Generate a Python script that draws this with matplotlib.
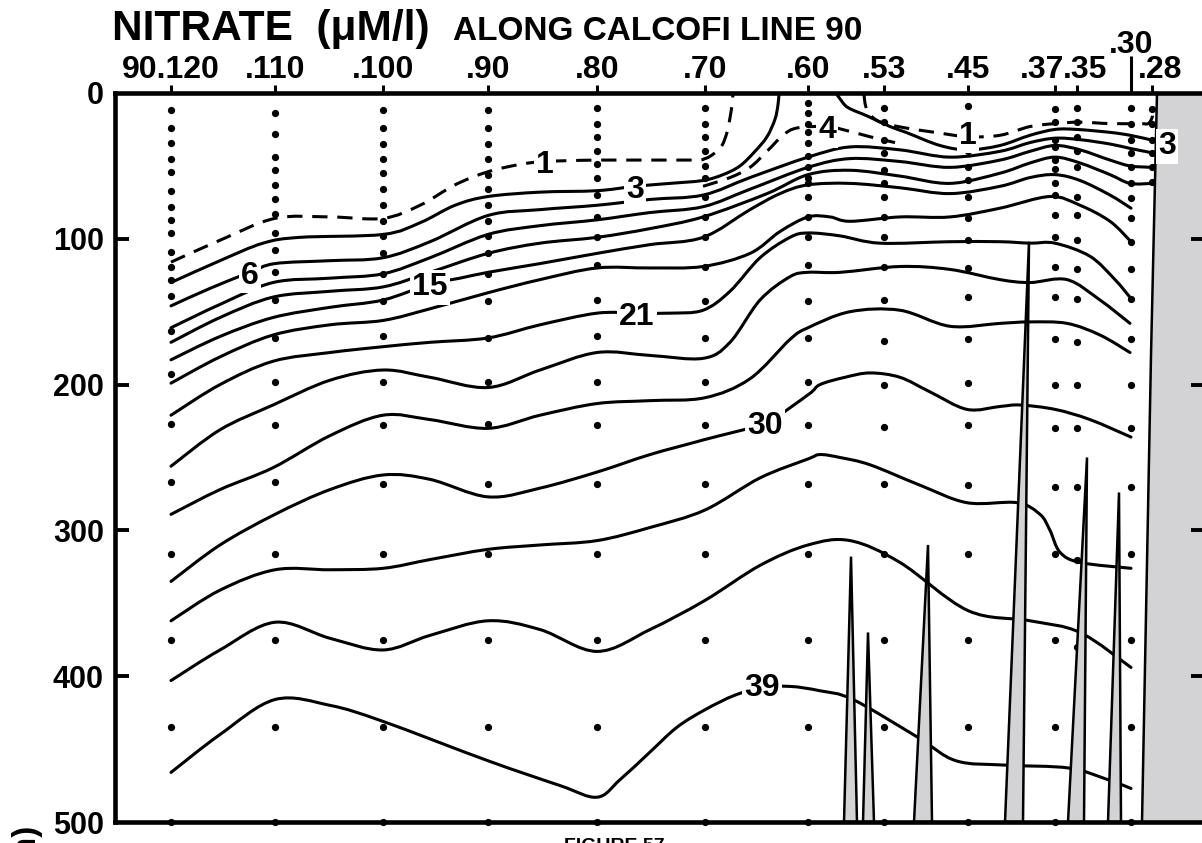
import matplotlib
matplotlib.use("Agg")
import matplotlib.pyplot as plt
from matplotlib.path import Path
from matplotlib.patches import PathPatch

plt.rcParams['font.family'] = ['Liberation Sans', 'DejaVu Sans']
plt.rcParams['font.weight'] = 'bold'

# stations along the line (section distance units) and their names
STATION_X = [171, 275, 383, 488, 597, 705, 808, 884, 968, 1055, 1077, 1131, 1152]
STATION_NAMES = ['90.120', '.110', '.100', '.90', '.80', '.70', '.60', '.53',
                 '.45', '.37', '.35', '.30', '.28']

# bottle depths (m) sampled at each station
S120 = [12, 24, 34, 45, 54, 67, 78, 87, 96, 109, 119, 128, 139, 163, 193, 227, 267, 316, 375, 435, 500]
S110 = [14, 28, 44, 53, 63, 73, 83, 96, 108, 123, 142, 168, 198, 228, 267, 316, 375, 435, 500]
S100 = [12, 24, 35, 45, 55, 66, 77, 88, 98, 110, 124, 143, 167, 198, 228, 268, 316, 375, 435, 500]
S90 = [12, 24, 35, 45, 56, 66, 77, 88, 98, 110, 124, 143, 168, 198, 227, 268, 316, 375, 435, 500]
S80 = [10, 21, 30, 40, 49, 58, 70, 85, 99, 118, 142, 167, 198, 228, 268, 316, 375, 435, 500]
S70 = [10, 21, 30, 40, 50, 58, 71, 85, 99, 119, 143, 168, 198, 228, 268, 316, 375, 435, 500]
S60 = [7, 14, 21, 27, 34, 43, 51, 58, 62, 71, 85, 99, 118, 143, 168, 198, 228, 268, 316, 375, 435, 500]
S53 = [10, 20, 32, 41, 53, 62, 71, 85, 99, 119, 142, 170, 200, 229, 268, 316, 375, 435, 500]
S45 = [9, 20, 30, 40, 51, 60, 71, 86, 101, 120, 140, 169, 199, 228, 269, 316, 375, 435, 500]
S37 = [11, 20, 32, 37, 46, 52, 62, 70, 84, 99, 119, 140, 169, 200, 230, 270, 316, 375, 435, 500]
S35 = [10, 20, 30, 40, 51, 71, 84, 101, 121, 141, 171, 200, 230, 270, 320, 380, 440]
S30 = [10, 21, 32, 41, 51, 62, 72, 86, 102, 121, 141, 169, 200, 230, 270, 316, 375, 435, 500]
S28 = [11, 21, 32, 41, 51, 61]
SAMPLES = [S120, S110, S100, S90, S80, S70, S60, S53, S45, S37, S35, S30, S28]

# nitrate isolines (uM/l): x along section, depth in m
N1A_X = [171, 220, 275, 330, 383, 420, 455, 488, 520, 545, 600, 690, 705, 715, 722, 727, 730, 732, 733]
N1A_Z = [116, 101, 86, 85, 86, 77, 63, 54, 49, 47, 46, 46, 45, 41, 36, 27, 17, 8, 0]
N1B_X = [864, 865, 868, 875, 885, 906, 935, 968, 1000, 1030, 1055, 1080, 1110, 1140, 1148, 1152, 1153]
N1B_Z = [0, 7, 13, 18, 21, 24, 27, 30, 29, 23, 21, 20, 21, 21, 21, 17, 12]
N3A_X = [171, 220, 263, 300, 383, 420, 455, 488, 540, 597, 635, 670, 703, 723, 740, 755, 767, 775, 778, 779]
N3A_Z = [130, 115, 103, 99, 97, 89, 77, 71, 68, 67, 64, 62, 60, 56, 50, 40, 30, 18, 8, 0]
N3B_X = [836, 840, 848, 868, 890, 906, 940, 968, 1000, 1030, 1055, 1077, 1110, 1130, 1150]
N3B_Z = [0, 4, 10, 16, 23, 27, 36, 39, 36, 29, 25, 25, 27, 29, 32]
N4_X = [703, 730, 750, 767, 783, 797, 827, 848, 870, 895]
N4_Z = [64, 58, 51, 40, 29, 24, 23, 26, 30, 34]
N6_X = [171, 210, 250, 275, 330, 383, 430, 488, 540, 597, 650, 703, 750, 808, 850, 900, 950, 1000, 1030, 1055, 1080, 1110, 1130, 1152]
N6_Z = [146, 134, 123, 117, 115, 113, 102, 84, 80, 77, 73, 70, 58, 44, 37, 39, 44, 40, 34, 31, 32, 35, 38, 41]
N9_X = [171, 220, 273, 330, 383, 430, 488, 540, 597, 650, 703, 750, 808, 850, 900, 950, 1000, 1030, 1055, 1080, 1110, 1130, 1152]
N9_Z = [161, 145, 130, 127, 124, 113, 97, 91, 87, 82, 78, 66, 51, 45, 47, 51, 46, 40, 36, 39, 46, 50, 51]
N12_X = [171, 220, 273, 330, 383, 430, 488, 540, 597, 650, 703, 767, 808, 850, 900, 950, 1000, 1030, 1055, 1080, 1110, 1130, 1152]
N12_Z = [171, 154, 140, 136, 133, 123, 110, 103, 99, 93, 85, 69, 56, 53, 57, 62, 55, 48, 44, 48, 56, 62, 62]
N15_X = [171, 220, 273, 330, 383, 430, 460, 488, 540, 597, 650, 703, 750, 780, 808, 850, 900, 950, 1000, 1030, 1055, 1080, 1110, 1131]
N15_Z = [183, 167, 154, 147, 142, 131, 127, 123, 117, 110, 104, 99, 80, 69, 63, 62, 65, 69, 64, 58, 56, 60, 70, 79]
N18_X = [171, 220, 273, 330, 383, 430, 488, 540, 597, 650, 703, 750, 780, 808, 830, 850, 900, 950, 1000, 1050, 1080, 1110, 1131]
N18_Z = [199, 181, 166, 159, 156, 148, 137, 128, 120, 120, 119, 110, 95, 85, 85, 88, 85, 85, 79, 71, 77, 88, 102]
N21_X = [171, 220, 273, 330, 383, 430, 488, 540, 597, 637, 670, 703, 730, 760, 790, 808, 840, 880, 950, 1000, 1030, 1055, 1090, 1115, 1131]
N21_Z = [221, 200, 184, 178, 174, 171, 168, 159, 151, 151, 151, 149, 136, 113, 99, 96, 98, 103, 102, 102, 103, 103, 112, 128, 141]
N24_X = [171, 220, 273, 330, 383, 430, 488, 540, 597, 650, 703, 730, 760, 790, 808, 840, 900, 950, 1000, 1030, 1067, 1100, 1130]
N24_Z = [256, 231, 214, 197, 190, 195, 202, 190, 178, 180, 182, 171, 142, 126, 123, 123, 119, 121, 128, 130, 128, 142, 158]
N27_X = [171, 220, 273, 330, 383, 430, 488, 540, 597, 650, 705, 750, 790, 808, 850, 900, 950, 1000, 1030, 1067, 1100, 1130]
N27_Z = [289, 272, 257, 235, 221, 224, 230, 221, 213, 211, 209, 196, 169, 161, 150, 149, 160, 158, 157, 158, 166, 178]
N30_X = [171, 220, 275, 330, 383, 430, 488, 540, 597, 650, 703, 765, 808, 820, 845, 870, 900, 930, 967, 1000, 1020, 1055, 1090, 1131]
N30_Z = [335, 310, 289, 272, 262, 265, 277, 271, 260, 248, 238, 226, 207, 200, 195, 192, 195, 205, 217, 215, 214, 217, 224, 236]
N33_X = [171, 220, 275, 330, 383, 430, 488, 540, 597, 650, 705, 760, 808, 820, 840, 870, 920, 967, 1017, 1040, 1050, 1060, 1080, 1131]
N33_Z = [362, 341, 327, 327, 326, 320, 313, 310, 307, 298, 286, 264, 251, 248, 250, 255, 269, 281, 281, 289, 300, 315, 322, 326]
N36_X = [171, 220, 275, 330, 383, 430, 488, 540, 597, 650, 705, 760, 808, 850, 900, 968, 1030, 1080, 1131]
N36_Z = [403, 382, 363, 374, 382, 372, 362, 368, 383, 368, 348, 324, 310, 307, 322, 355, 362, 370, 394]
N39_X = [171, 220, 275, 330, 383, 488, 560, 597, 620, 650, 677, 705, 735, 762, 790, 820, 853, 918, 956, 1006, 1069, 1108, 1131]
N39_Z = [466, 440, 416, 420, 431, 458, 475, 483, 471, 452, 435, 423, 413, 408, 407, 410, 416, 442, 458, 461, 463, 471, 477]

DASHED = [(N1A_X, N1A_Z), (N1B_X, N1B_Z), (N4_X, N4_Z)]
SOLID = [(N3A_X, N3A_Z), (N3B_X, N3B_Z), (N6_X, N6_Z), (N9_X, N9_Z), (N12_X, N12_Z),
         (N15_X, N15_Z), (N18_X, N18_Z), (N21_X, N21_Z), (N24_X, N24_Z), (N27_X, N27_Z),
         (N30_X, N30_Z), (N33_X, N33_Z), (N36_X, N36_Z), (N39_X, N39_Z)]

LABEL_TEXT = ['1', '3', '6', '15', '21', '30', '39', '4', '1', '3']
LABEL_X = [545, 635, 250, 430, 637, 765, 762, 827, 968, 1167]
LABEL_Z = [47, 64, 123, 131, 151, 226, 406, 23, 27, 34]

# bottom relief: tip position/depth and base edges
SPIKE_TIP_X = [851, 868, 928, 1029, 1087, 1119]
SPIKE_TIP_Z = [318, 370, 310, 102, 250, 274]
SPIKE_LEFT = [844, 863, 914, 1005, 1068, 1108]
SPIKE_RIGHT = [857, 874, 932, 1023, 1084, 1121]
LAND_X = [1157, 1151, 1142]
LAND_Z = [0, 180, 500]

GRAY = '#d3d3d6'


def smooth_path(xs, zs):
    # curved path through the points (Catmull-Rom as cubic Bezier segments)
    pts = list(zip(xs, zs))
    verts = [pts[0]]
    codes = [Path.MOVETO]
    n = len(pts)
    for i in range(n - 1):
        p0 = pts[max(i - 1, 0)]
        p1 = pts[i]
        p2 = pts[i + 1]
        p3 = pts[min(i + 2, n - 1)]
        c1 = (p1[0] + (p2[0] - p0[0]) / 6, p1[1] + (p2[1] - p0[1]) / 6)
        c2 = (p2[0] - (p3[0] - p1[0]) / 6, p2[1] - (p3[1] - p1[1]) / 6)
        verts += [c1, c2, p2]
        codes += [Path.CURVE4] * 3
    return Path(verts, codes)


fig = plt.figure(figsize=(12.02, 8.43), dpi=100)
ax = fig.add_axes([115/1202, 21/843, 1090/1202, 729/843])
ax.set_xlim(115, 1205)
ax.set_ylim(500, 0)

for xs, zs in SOLID:
    ax.add_patch(PathPatch(smooth_path(xs, zs), fill=False, ec='k', lw=2.2,
                           capstyle='round', joinstyle='round', zorder=3))
for xs, zs in DASHED:
    ax.add_patch(PathPatch(smooth_path(xs, zs), fill=False, ec='k', lw=2.2,
                           linestyle=(0, (5.0, 3.2)), zorder=3))

for x, depths in zip(STATION_X, SAMPLES):
    ax.plot([x]*len(depths), depths, 'o', ms=4.2, color='k', zorder=4, clip_on=False)

for tx, tz, l, r in zip(SPIKE_TIP_X, SPIKE_TIP_Z, SPIKE_LEFT, SPIKE_RIGHT):
    ax.fill([l, tx, r], [500, tz, 500], facecolor=GRAY, edgecolor='k', lw=1.8, zorder=5)
ax.fill_betweenx(LAND_Z, LAND_X, 1300, facecolor=GRAY, edgecolor='none', zorder=5)
ax.plot(LAND_X, LAND_Z, color='k', lw=1.8, zorder=5)

for t, x, z in zip(LABEL_TEXT, LABEL_X, LABEL_Z):
    ax.text(x, z, t, fontsize=23, fontweight='bold', ha='center', va='center_baseline', zorder=8,
            bbox=dict(boxstyle='square,pad=0.08', facecolor='white', edgecolor='none'))

# axes frame and ticks
for sp in ax.spines.values():
    sp.set_linewidth(3.3)
    sp.set_zorder(9)
ax.xaxis.set_zorder(9)
ax.yaxis.set_zorder(9)
ax.set_yticks([0, 100, 200, 300, 400, 500])
ax.set_yticklabels(['0', '100', '200', '300', '400', '500'], fontsize=22, fontweight='bold')
ax.tick_params(axis='y', direction='in', length=10, width=2.8, left=True, right=True, pad=8)
for t, loc in zip(ax.yaxis.get_major_ticks(), [0, 100, 200, 300, 400, 500]):
    if loc in (0, 500):
        t.tick1line.set_visible(False)
        t.tick2line.set_visible(False)

ax.xaxis.tick_top()
ax.set_xticks(STATION_X)
ax.set_xticklabels([])
ax.tick_params(axis='x', direction='out', length=6, width=2.2, top=True, bottom=False)
ax.xaxis.get_major_ticks()[STATION_NAMES.index('.30')].tick2line.set_markersize(27)

label_dx = {'.37': -9.5, '.35': 6, '.28': 6}
for x, name in zip(STATION_X, STATION_NAMES):
    dy = 29 if name == '.30' else 11
    ax.annotate(name, xy=(x, 1), xycoords=('data', 'axes fraction'),
                xytext=(label_dx.get(name, 0), dy), textcoords='offset points',
                ha='center', va='baseline', fontsize=23, fontweight='bold')

fig.text(112/1202, 1 - 40/843, 'NITRATE  (μM/l)', fontsize=30.5, fontweight='bold', va='baseline')
fig.text(453/1202, 1 - 40/843, 'ALONG CALCOFI LINE 90', fontsize=24, fontweight='bold', va='baseline')
fig.text(28/1202, 17/843, 'DEPTH (m)', fontsize=24, fontweight='bold', rotation=90,
         rotation_mode='anchor', ha='right', va='center')
fig.text(614/1202, 5/843, 'FIGURE 57', fontsize=14, fontweight='bold', ha='center', va='top')

fig.savefig('out.png', dpi=100)
